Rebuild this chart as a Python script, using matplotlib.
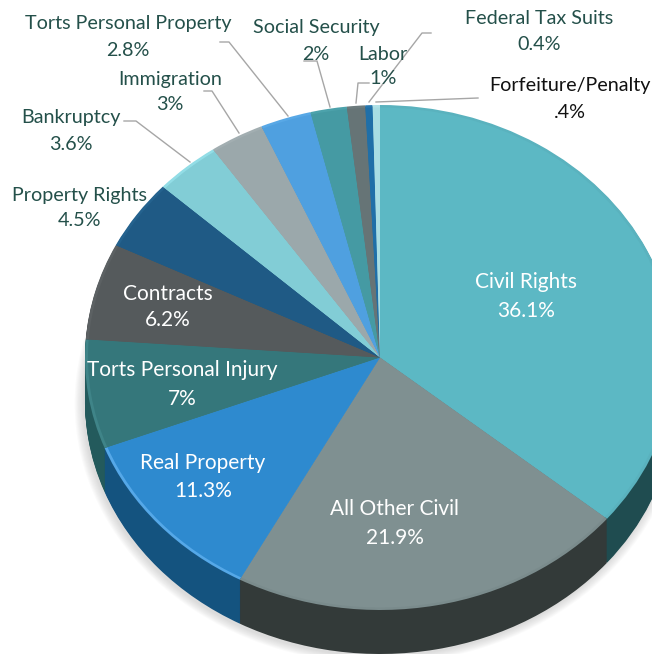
import matplotlib
matplotlib.use('Agg')
import matplotlib.pyplot as plt
from matplotlib.patches import Ellipse

categories = ['Civil Rights', 'All Other Civil', 'Real Property', 'Torts Personal Injury',
              'Contracts', 'Property Rights', 'Bankruptcy', 'Immigration',
              'Torts Personal Property', 'Social Security', 'Labor',
              'Federal Tax Suits', 'Forfeiture/Penalty']
values = [36.1, 21.9, 11.3, 7, 6.2, 4.5, 3.6, 3, 2.8, 2, 1, 0.4, 0.4]
pct_labels = ['36.1%', '21.9%', '11.3%', '7%', '6.2%', '4.5%', '3.6%', '3%', '2.8%', '2%', '1%', '0.4%', '.4%']

colors = ['#5cb8c4', '#7f9091', '#2e8acf', '#35777b', '#555a5c', '#1f5a85', '#82cdd6',
          '#9ba8ab', '#4fa0e0', '#459aa3', '#667476', '#1f6fa8', '#a8dde3']
wall_colors = ['#1f4c50', '#333a39', '#14537f', '#235a5c', '#3a3e40', '#143c58', '#4f8c94',
               '#667074', '#2f6c9c', '#2d6a70', '#444e50', '#144a70', '#70a0a6']
rim_colors = ['#5ab2be', '#7a8b8c', '#55a8e8', '#3f8488', '#5c6163', '#24628e', '#92dde6',
              '#a2aeb1', '#58a8e6', '#4ca2ab', '#6c7a7c', '#2576ae', '#b0e2e8']

# pixel positions of the labels (x, name y, percent y), same order as categories
label_pos = [(526, 282, 311), (395, 509, 538), (203, 463, 491), (182, 370, 399), (168, 294, 320),
             (80, 195, 221), (71, 117, 144), (170, 79, 104), (128, 24, 50), (316, 27, 54),
             (383, 54, 79), (539, 19, 44), (570, 86, 112)]
label_colors = ['white'] * 5 + ['#24504a'] * 7 + ['#111111']
label_sizes = [15] * 5 + [14.2] * 8

leaders = [
    [(124, 121), (136, 121), (190, 162)],
    [(204, 91), (212, 91), (239, 133)],
    [(220, 42), (229, 42), (288, 116)],
    [(304, 61), (317, 61), (330, 107)],
    [(369, 83), (358, 83), (356, 103)],
    [(431, 33), (422, 33), (369, 102)],
    [(478, 98), (376, 102)],
]

W, H = 652, 654
CX, CY, RX, RY = 380, 357.5, 295, 252.5
DEPTH = 44

fig = plt.figure(figsize=(W / 100, H / 100), dpi=100)
ax = fig.add_axes([0, 0, 1, 1])

# soft shadow round the lower edge
for i in range(8):
    grow = 1.03 - i * 0.004
    ax.add_patch(Ellipse((-0.005, -(DEPTH + 2) / RY), 2 * grow, 2 * grow, color='#808080',
                         alpha=0.035, lw=0, zorder=0))

# side wall: stack of darker pies going down
for d in range(DEPTH, 0, -1):
    ax.pie(values, colors=wall_colors, startangle=90, counterclock=False, radius=1,
           center=(0, -d / RY), wedgeprops={'linewidth': 0, 'zorder': 1})

# top face with a lighter rim
ax.pie(values, colors=rim_colors, startangle=90, counterclock=False, radius=1,
       wedgeprops={'linewidth': 0, 'zorder': 2})
ax.pie(values, colors=colors, startangle=90, counterclock=False, radius=0.99,
       wedgeprops={'linewidth': 0, 'zorder': 3})

ax.set_aspect('auto')
ax.set_xlim(-CX / RX, (W - CX) / RX)
ax.set_ylim((CY - H) / RY, CY / RY)
ax.axis('off')

# overlay in pixel coordinates for the labels and leader lines
over = fig.add_axes([0, 0, 1, 1])
over.set_xlim(0, W)
over.set_ylim(H, 0)
over.axis('off')
over.patch.set_alpha(0)

for pts in leaders:
    over.plot([p[0] for p in pts], [p[1] for p in pts], color='#a6a6a6', lw=1)

for name, pct, pos, c, s in zip(categories, pct_labels, label_pos, label_colors, label_sizes):
    over.text(pos[0], pos[1], name, color=c, ha='center', va='center', fontsize=s, family='Lato')
    over.text(pos[0], pos[2], pct, color=c, ha='center', va='center', fontsize=s, family='Lato')

fig.savefig('out.png', dpi=100)
